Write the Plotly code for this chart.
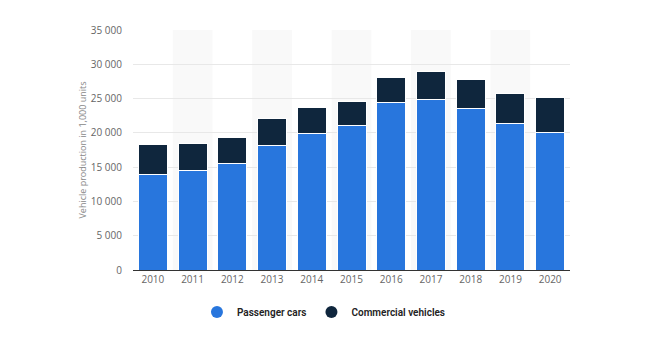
import plotly.graph_objects as go

years = ["2010", "2011", "2012", "2013", "2014", "2015", "2016", "2017", "2018", "2019", "2020"]
passenger_cars = [13897, 14485, 15523, 18085, 19919, 21079, 24420, 24807, 23529, 21360, 19994]
commercial_vehicles = [4368, 3933, 3748, 4032, 3803, 3423, 3698, 4208, 4279, 4362, 5231]
y_ticks = [0, 5000, 10000, 15000, 20000, 25000, 30000, 35000]

c_pass = "#2876dd"
c_comm = "#0f263d"

fig = go.Figure()
fig.add_trace(go.Bar(x=years, y=passenger_cars, name="Passenger cars", marker=dict(color=c_pass, line=dict(color="white", width=1)), showlegend=False))
fig.add_trace(go.Bar(x=years, y=commercial_vehicles, name="Commercial vehicles", marker=dict(color=c_comm, line=dict(color="white", width=1)), showlegend=False))
fig.add_trace(go.Scatter(x=[None], y=[None], mode="markers", name="Passenger cars", marker=dict(color=c_pass, size=9, symbol="circle")))
fig.add_trace(go.Scatter(x=[None], y=[None], mode="markers", name="Commercial vehicles", marker=dict(color=c_comm, size=9, symbol="circle")))

shapes = []
for i in range(1, len(years), 2):
    shapes.append(dict(type="rect", xref="x", yref="paper", x0=i - 0.5, x1=i + 0.5, y0=0, y1=1,
                       fillcolor="#f9f9f9", line=dict(width=0), layer="below"))

fig.update_layout(
    width=668, height=348,
    margin=dict(l=133, r=98, t=30, b=78),
    barmode="stack", bargap=0.27,
    plot_bgcolor="white", paper_bgcolor="white",
    separators=". ",
    font=dict(family="Open Sans, DejaVu Sans, sans-serif", size=10, color="#666"),
    shapes=shapes,
    showlegend=True,
    legend=dict(orientation="h", x=0.437, xanchor="center", y=-0.115, yanchor="top",
                font=dict(size=10, color="#222", family="Roboto, Open Sans, sans-serif", weight=600),
                itemsizing="constant", traceorder="normal"),
    xaxis=dict(type="category", showgrid=False, showline=True, linecolor="#333", linewidth=1,
               ticks="", tickfont=dict(size=10, color="#666"), range=[-0.5, 10.5]),
    yaxis=dict(range=[0, 35000], tickvals=y_ticks, tickformat=",d", showgrid=True,
               gridcolor="#e8e8e8", gridwidth=1, zeroline=False, showline=False,
               ticks="", ticklabelstandoff=10,
               title=dict(text="Vehicle production in 1,000 units", font=dict(size=9, color="#888"), standoff=2),
               tickfont=dict(size=10, color="#666")),
)

fig.write_html("out.html")
